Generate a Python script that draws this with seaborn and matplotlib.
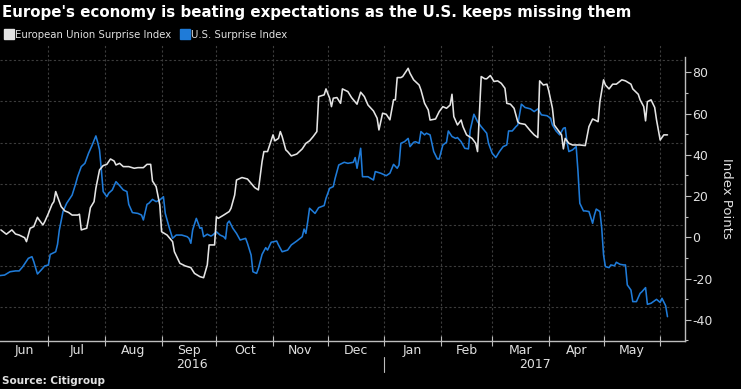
import matplotlib
matplotlib.use("Agg")
import matplotlib.pyplot as plt
import matplotlib.dates as mdates
from matplotlib.lines import Line2D
import pandas as pd
import seaborn as sns

# Citi economic surprise indexes
eu_dates = [
    "2016-06-05", "2016-06-08", "2016-06-11", "2016-06-13", "2016-06-15", "2016-06-18", "2016-06-19",
    "2016-06-21", "2016-06-23", "2016-06-25", "2016-06-26", "2016-06-28", "2016-06-29", "2016-07-01",
    "2016-07-03", "2016-07-04", "2016-07-05", "2016-07-06", "2016-07-08", "2016-07-10", "2016-07-12",
    "2016-07-14", "2016-07-17", "2016-07-18", "2016-07-19", "2016-07-22", "2016-07-23", "2016-07-24",
    "2016-07-26", "2016-07-27", "2016-07-29", "2016-07-31", "2016-08-02", "2016-08-04", "2016-08-06",
    "2016-08-07", "2016-08-09", "2016-08-11", "2016-08-14", "2016-08-17", "2016-08-19", "2016-08-22",
    "2016-08-24", "2016-08-26", "2016-08-27", "2016-08-29", "2016-08-31", "2016-09-01", "2016-09-04",
    "2016-09-07", "2016-09-08", "2016-09-11", "2016-09-14", "2016-09-17", "2016-09-19", "2016-09-22",
    "2016-09-24", "2016-09-26", "2016-09-27", "2016-09-30", "2016-10-01", "2016-10-02", "2016-10-05",
    "2016-10-08", "2016-10-09", "2016-10-11", "2016-10-12", "2016-10-15", "2016-10-18", "2016-10-20",
    "2016-10-22", "2016-10-24", "2016-10-26", "2016-10-27", "2016-10-29", "2016-11-01", "2016-11-02",
    "2016-11-04", "2016-11-05", "2016-11-06", "2016-11-08", "2016-11-09", "2016-11-11", "2016-11-14",
    "2016-11-17", "2016-11-19", "2016-11-21", "2016-11-23", "2016-11-25", "2016-11-26", "2016-11-29",
    "2016-11-30", "2016-12-02", "2016-12-03", "2016-12-04", "2016-12-06", "2016-12-08", "2016-12-09",
    "2016-12-12", "2016-12-14", "2016-12-17", "2016-12-19", "2016-12-21", "2016-12-23", "2016-12-26",
    "2016-12-28", "2016-12-29", "2016-12-31", "2017-01-02", "2017-01-04", "2017-01-06", "2017-01-07",
    "2017-01-08", "2017-01-10", "2017-01-11", "2017-01-14", "2017-01-15", "2017-01-17", "2017-01-20",
    "2017-01-21", "2017-01-23", "2017-01-25", "2017-01-26", "2017-01-29", "2017-01-31", "2017-02-02",
    "2017-02-04", "2017-02-06", "2017-02-07", "2017-02-08", "2017-02-10", "2017-02-12", "2017-02-13",
    "2017-02-15", "2017-02-18", "2017-02-20", "2017-02-21", "2017-02-23", "2017-02-25", "2017-02-26",
    "2017-02-28", "2017-03-02", "2017-03-04", "2017-03-06", "2017-03-08", "2017-03-09", "2017-03-11",
    "2017-03-13", "2017-03-15", "2017-03-16", "2017-03-19", "2017-03-22", "2017-03-24", "2017-03-26",
    "2017-03-27", "2017-03-29", "2017-03-31", "2017-04-01", "2017-04-03", "2017-04-04", "2017-04-06",
    "2017-04-08", "2017-04-09", "2017-04-10", "2017-04-12", "2017-04-14", "2017-04-18", "2017-04-21",
    "2017-04-23", "2017-04-25", "2017-04-26", "2017-04-28", "2017-04-29", "2017-05-01", "2017-05-02",
    "2017-05-04", "2017-05-06", "2017-05-08", "2017-05-11", "2017-05-13", "2017-05-16", "2017-05-17",
    "2017-05-20", "2017-05-21", "2017-05-23", "2017-05-24", "2017-05-25", "2017-05-27", "2017-05-29",
    "2017-05-30", "2017-06-01", "2017-06-03", "2017-06-05",
]
eu_values = [
    3.6, 1.5, 3.6, 1.6, 1.1, -0.2, -2.1,
    4.4, 5.2, 9.7, 8.4, 6.0, 7.6, 11.6,
    16.0, 17.3, 22.2, 19.7, 14.9, 12.8, 12.1,
    10.8, 10.8, 11.2, 3.6, 4.4, 9.2, 14.4,
    17.3, 23.8, 32.7, 34.8, 35.4, 38.0, 37.0,
    35.1, 35.9, 34.3, 34.3, 33.5, 33.8, 33.8,
    35.4, 35.4, 27.3, 24.6, 15.7, 2.7, 1.1,
    -2.1, -7.0, -12.6, -13.9, -14.7, -17.5, -19.1,
    -19.6, -13.4, -3.7, -3.7, 10.0, 9.2, 10.8,
    12.5, 14.1, 20.5, 27.8, 29.0, 28.3, 26.2,
    24.1, 23.0, 36.7, 41.6, 41.6, 49.7, 46.8,
    48.0, 51.3, 48.9, 42.4, 41.6, 39.5, 40.4,
    42.9, 45.6, 46.8, 48.9, 51.3, 68.3, 69.1,
    72.0, 67.5, 63.4, 67.5, 67.8, 65.0, 72.0,
    70.7, 67.8, 64.6, 70.4, 68.3, 64.2, 61.3,
    57.8, 52.1, 60.2, 59.7, 57.0, 66.7, 66.7,
    77.5, 77.5, 78.0, 82.0, 79.6, 76.4, 73.9,
    71.5, 65.0, 61.8, 56.9, 57.4, 61.0, 63.4,
    62.6, 64.2, 69.4, 58.6, 54.5, 56.9, 53.7,
    49.7, 48.0, 45.6, 41.6, 78.0, 76.9, 76.9,
    78.5, 75.6, 75.9, 74.7, 72.3, 65.0, 64.6,
    62.6, 56.1, 55.3, 54.8, 51.6, 49.7, 48.4,
    75.9, 73.9, 74.3, 71.0, 62.6, 54.5, 52.1,
    49.7, 42.9, 48.0, 45.6, 44.8, 44.8, 44.5,
    53.7, 57.4, 57.0, 56.1, 65.8, 76.4, 73.9,
    72.0, 74.3, 74.3, 76.4, 75.9, 74.3, 72.0,
    69.4, 66.7, 63.4, 56.5, 65.8, 66.7, 63.0,
    57.0, 47.2, 49.7, 49.7,
]

us_dates = [
    "2016-06-04", "2016-06-07", "2016-06-10", "2016-06-13", "2016-06-15", "2016-06-17", "2016-06-20",
    "2016-06-22", "2016-06-23", "2016-06-25", "2016-06-27", "2016-06-29", "2016-07-01", "2016-07-02",
    "2016-07-05", "2016-07-06", "2016-07-07", "2016-07-09", "2016-07-11", "2016-07-14", "2016-07-16",
    "2016-07-17", "2016-07-19", "2016-07-21", "2016-07-23", "2016-07-25", "2016-07-27", "2016-07-28",
    "2016-07-29", "2016-07-30", "2016-07-31", "2016-08-02", "2016-08-03", "2016-08-05", "2016-08-07",
    "2016-08-09", "2016-08-11", "2016-08-13", "2016-08-14", "2016-08-16", "2016-08-19", "2016-08-21",
    "2016-08-22", "2016-08-24", "2016-08-25", "2016-08-27", "2016-08-29", "2016-08-31", "2016-09-02",
    "2016-09-03", "2016-09-05", "2016-09-07", "2016-09-09", "2016-09-12", "2016-09-15", "2016-09-16",
    "2016-09-17", "2016-09-18", "2016-09-20", "2016-09-22", "2016-09-23", "2016-09-24", "2016-09-26",
    "2016-09-28", "2016-09-29", "2016-10-01", "2016-10-03", "2016-10-05", "2016-10-06", "2016-10-07",
    "2016-10-08", "2016-10-10", "2016-10-12", "2016-10-14", "2016-10-17", "2016-10-18", "2016-10-20",
    "2016-10-21", "2016-10-23", "2016-10-24", "2016-10-26", "2016-10-28", "2016-10-29", "2016-10-31",
    "2016-11-03", "2016-11-04", "2016-11-06", "2016-11-09", "2016-11-11", "2016-11-14", "2016-11-17",
    "2016-11-18", "2016-11-19", "2016-11-20", "2016-11-21", "2016-11-22", "2016-11-24", "2016-11-26",
    "2016-11-29", "2016-11-30", "2016-12-02", "2016-12-04", "2016-12-05", "2016-12-07", "2016-12-10",
    "2016-12-12", "2016-12-15", "2016-12-16", "2016-12-17", "2016-12-19", "2016-12-20", "2016-12-23",
    "2016-12-26", "2016-12-27", "2016-12-30", "2017-01-02", "2017-01-04", "2017-01-06", "2017-01-08",
    "2017-01-09", "2017-01-10", "2017-01-12", "2017-01-14", "2017-01-15", "2017-01-17", "2017-01-18",
    "2017-01-20", "2017-01-21", "2017-01-23", "2017-01-24", "2017-01-26", "2017-01-28", "2017-01-30",
    "2017-01-31", "2017-02-02", "2017-02-04", "2017-02-05", "2017-02-07", "2017-02-09", "2017-02-10",
    "2017-02-12", "2017-02-14", "2017-02-16", "2017-02-17", "2017-02-19", "2017-02-21", "2017-02-23",
    "2017-02-26", "2017-02-27", "2017-03-01", "2017-03-03", "2017-03-05", "2017-03-07", "2017-03-09",
    "2017-03-10", "2017-03-12", "2017-03-14", "2017-03-15", "2017-03-17", "2017-03-19", "2017-03-22",
    "2017-03-24", "2017-03-26", "2017-03-28", "2017-03-31", "2017-04-02", "2017-04-03", "2017-04-05",
    "2017-04-07", "2017-04-09", "2017-04-10", "2017-04-11", "2017-04-12", "2017-04-14", "2017-04-16",
    "2017-04-17", "2017-04-18", "2017-04-20", "2017-04-21", "2017-04-23", "2017-04-25", "2017-04-26",
    "2017-04-27", "2017-04-29", "2017-04-30", "2017-05-01", "2017-05-02", "2017-05-04", "2017-05-05",
    "2017-05-07", "2017-05-08", "2017-05-10", "2017-05-12", "2017-05-13", "2017-05-14", "2017-05-16",
    "2017-05-17", "2017-05-19", "2017-05-21", "2017-05-22", "2017-05-24", "2017-05-25", "2017-05-27",
    "2017-05-30", "2017-06-01", "2017-06-02", "2017-06-04", "2017-06-05",
]
us_values = [
    -18.6, -18.3, -16.7, -16.3, -16.3, -14.2, -10.2,
    -9.4, -11.8, -17.8, -15.9, -13.9, -13.4, -8.3,
    -7.0, -3.4, 3.6, 12.5, 16.5, 20.5, 26.2,
    29.4, 34.3, 35.9, 40.8, 44.8, 49.2, 46.1,
    42.4, 32.7, 22.2, 19.7, 21.4, 23.0, 27.0,
    25.1, 23.0, 22.2, 16.0, 12.0, 11.6, 10.8,
    8.4, 16.0, 16.5, 18.4, 17.3, 18.1, 19.7,
    11.6, 5.2, -0.5, 1.1, 1.1, 0.3, -0.5,
    -2.9, 3.6, 9.2, 4.4, 4.7, 0.3, 1.5,
    0.6, 1.1, 2.7, 1.1, 0.3, -0.8, 6.8,
    7.9, 4.4, 1.9, -1.3, -0.5, -2.9, -8.6,
    -16.7, -17.5, -15.1, -8.3, -5.0, -6.2, -2.4,
    -1.8, -3.7, -7.0, -6.2, -3.7, -1.8, 0.3,
    4.0, 1.9, 7.6, 14.1, 13.3, 11.6, 14.4,
    15.4, 18.9, 23.8, 24.6, 28.6, 35.1, 36.4,
    35.9, 36.4, 38.7, 33.5, 43.2, 29.4, 29.4,
    27.8, 31.9, 31.1, 29.9, 31.1, 35.4, 33.5,
    35.1, 45.6, 46.4, 48.0, 44.0, 46.1, 46.4,
    45.6, 51.3, 49.7, 50.5, 49.7, 41.6, 38.0,
    38.0, 44.8, 46.1, 51.6, 48.9, 48.0, 48.4,
    46.4, 43.2, 42.9, 52.1, 59.7, 56.1, 53.7,
    50.5, 45.6, 40.8, 38.7, 41.6, 44.0, 44.8,
    51.6, 51.6, 53.7, 54.5, 64.6, 63.0, 62.3,
    61.0, 62.3, 59.4, 59.0, 57.8, 54.5, 51.6,
    49.7, 52.9, 53.2, 46.1, 41.6, 42.4, 44.0,
    31.9, 16.5, 12.8, 12.8, 12.5, 6.8, 10.8,
    13.7, 12.5, 4.4, -8.6, -14.2, -14.7, -13.4,
    -13.8, -12.1, -13.1, -13.4, -13.4, -23.1, -25.6,
    -31.2, -31.2, -27.2, -26.4, -24.4, -32.5, -32.0,
    -30.1, -31.6, -29.6, -33.2, -38.5,
]

series_names = ["European Union Surprise Index", "U.S. Surprise Index"]
month_names = ["Jun", "Jul", "Aug", "Sep", "Oct", "Nov", "Dec",
               "Jan", "Feb", "Mar", "Apr", "May"]
year_labels = ["2016", "2017"]
y_ticks = [-40, -20, 0, 20, 40, 60, 80]

EU_COLOR = "#e4e4e4"
US_COLOR = "#1f7bd8"
TEXT = "#e0e0e0"
AXIS = "#bdbdbd"
GRID = "#3c3c3c"

df = pd.concat([
    pd.DataFrame({"date": pd.to_datetime(eu_dates), "value": eu_values, "series": series_names[0]}),
    pd.DataFrame({"date": pd.to_datetime(us_dates), "value": us_values, "series": series_names[1]}),
])

sns.set_theme(style="dark", rc={
    "axes.facecolor": "black",
    "figure.facecolor": "black",
    "text.color": TEXT,
})
plt.rcParams["font.family"] = ["DejaVu Sans"]

fig = plt.figure(figsize=(7.41, 3.89), dpi=100)
ax = fig.add_axes([0.0, 0.1234, 0.9244, 0.7609])

x_lo = pd.Timestamp("2016-06-04 12:00")
x_hi = pd.Timestamp("2017-06-14 14:00")
month_starts = pd.date_range("2016-07-01", "2017-06-01", freq="MS")

# faint dashed grid (Bloomberg draws it a little off the labelled values)
for v in [86, 66, 46, 26, 6, -14, -34]:
    ax.axhline(v, color=GRID, lw=0.8, ls=(0, (2, 2)), zorder=0)
for d in month_starts:
    ax.axvline(d, color=GRID, lw=0.8, ls=(0, (2, 2)), zorder=0)

sns.lineplot(data=df, x="date", y="value", hue="series",
             palette={series_names[0]: EU_COLOR, series_names[1]: US_COLOR},
             hue_order=series_names[::-1], estimator=None, legend=False,
             linewidth=1.15, ax=ax)

ax.set_xlim(x_lo, x_hi)
ax.set_ylim(-50.3, 93.3)
ax.set_xlabel("")
ax.set_ylabel("")

for side in ["left", "top"]:
    ax.spines[side].set_visible(False)
for side in ["right", "bottom"]:
    ax.spines[side].set_visible(True)
    ax.spines[side].set_color(AXIS)
    ax.spines[side].set_linewidth(1.0)
ax.spines["right"].set_bounds(-50.3, 87.5)

ax.yaxis.tick_right()
ax.set_yticks(y_ticks)
ax.set_yticks(range(-50, 81, 10), minor=True)
ax.set_yticklabels([str(t) for t in y_ticks])
ax.tick_params(axis="y", which="major", length=4, width=0.8, color=AXIS,
               labelsize=9, labelcolor=TEXT, pad=1, right=True, left=False)
ax.tick_params(axis="y", which="minor", length=2, width=0.8, color=AXIS,
               right=True, left=False)

ax.set_xticks(month_starts)
ax.set_xticklabels([])
ax.tick_params(axis="x", which="major", direction="inout", length=7, width=0.8,
               color=AXIS, bottom=True)
ax.tick_params(axis="x", which="minor", bottom=False)

# month names centred in each visible month, years centred in each visible year
bounds = [x_lo] + list(month_starts)
for name, a, b in zip(month_names, bounds[:-1], bounds[1:]):
    mid = a + (b - a) / 2
    ax.annotate(name, xy=(mdates.date2num(mid), 0), xycoords=("data", "axes fraction"),
                xytext=(0, -6.8), textcoords="offset points",
                ha="center", va="center", fontsize=9, color=TEXT)
jan = pd.Timestamp("2017-01-01")
for name, a, b in zip(year_labels, [x_lo, jan], [jan, x_hi]):
    mid = a + (b - a) / 2
    ax.annotate(name, xy=(mdates.date2num(mid), 0), xycoords=("data", "axes fraction"),
                xytext=(0, -16.8), textcoords="offset points",
                ha="center", va="center", fontsize=9, color=TEXT)
ax.plot([mdates.date2num(jan)] * 2, [-0.054, -0.105], transform=ax.get_xaxis_transform(),
        clip_on=False, color=AXIS, lw=0.8)

fig.text(0.003, 0.969, "Europe's economy is beating expectations as the U.S. keeps missing them",
         fontsize=10.85, fontweight="bold", color="white", ha="left", va="center")

handles = [Line2D([], [], marker="s", ls="", markersize=6.5, color=EU_COLOR),
           Line2D([], [], marker="s", ls="", markersize=6.5, color=US_COLOR)]
fig.legend(handles, series_names, loc="center left", bbox_to_anchor=(0.007, 0.911),
           ncol=2, frameon=False, fontsize=7.3, handlelength=0.8, handletextpad=0.2,
           columnspacing=0.9, borderpad=0, borderaxespad=0, labelcolor=TEXT)

fig.text(0.980, 0.491, "Index Points", rotation=270, fontsize=9.5, color=TEXT,
         ha="center", va="center")
fig.text(0.003, 0.021, "Source: Citigroup", fontsize=7.5, fontweight="bold",
         color=TEXT, ha="left", va="center")

fig.savefig("out.png", dpi=100, facecolor="black")
